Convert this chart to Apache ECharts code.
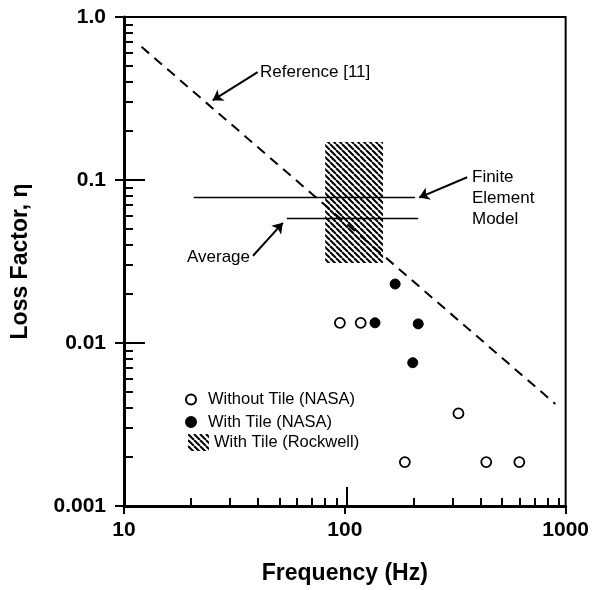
<!DOCTYPE html>
<html>
<head>
<meta charset="utf-8">
<script src="https://cdn.jsdelivr.net/npm/echarts@6/dist/echarts.min.js"></script>
<style>html,body{margin:0;padding:0;background:#fff}#main{width:592px;height:590px}</style>
</head>
<body>
<div id="main"></div>
<script>
// measured points
var withoutTile = [[95, 0.0133], [118, 0.0133], [327, 0.0037], [187, 0.00186], [437, 0.00186], [617, 0.00186]];
var withTile = [[137, 0.0133], [169, 0.023], [215, 0.0131], [203, 0.00757]];
// Rockwell band: [f low, f high, eta high, eta low]
var rockwell = [[81.5, 149, 0.171, 0.031]];
// lines
var reference11 = [[12, 0.656], [898, 0.00423]];
var femLine = [[20.7, 0.078], [208, 0.078]];
var avgLine = [[54.6, 0.058], [215, 0.058]];
// annotation arrows (tail -> head)
var arrowRef = [[40.3, 0.459], [25.2, 0.308]];
var arrowFem = [[358, 0.104], [217, 0.078]];
var arrowAvg = [[38.4, 0.0343], [52.4, 0.0546]];
// ticks
var xMinor = [20, 30, 40, 50, 60, 70, 80, 90, 200, 300, 400, 500, 600, 700, 800, 900];
var yMinor = [0.002, 0.003, 0.004, 0.005, 0.006, 0.007, 0.008, 0.009,
  0.02, 0.03, 0.04, 0.05, 0.06, 0.07, 0.08, 0.09,
  0.2, 0.3, 0.4, 0.5, 0.6, 0.7, 0.8, 0.9];
var xMajorInner = [100];
var yMajorInner = [0.01, 0.1];

var FONT = '"Liberation Sans", Arial, Helvetica, sans-serif';

// hatch pattern  \\\\
var hatch = document.createElement('canvas');
hatch.width = 6; hatch.height = 6;
(function () {
  var c = hatch.getContext('2d');
  c.strokeStyle = '#000';
  c.lineWidth = 2;
  c.beginPath();
  for (var k = -6; k <= 6; k += 6) {
    c.moveTo(k, 0);
    c.lineTo(k + 6, 6);
  }
  c.stroke();
})();
var hatchFill = { image: hatch, repeat: 'repeat' };

var gridBox = { left: 124, right: 23, top: 17, bottom: 84 };
function grid(extra) { return Object.assign({}, gridBox, extra || {}); }

function xAx(i, extra) {
  return Object.assign({
    type: 'log', logBase: 10, min: 10, max: 1000, gridIndex: i,
    axisLine: { show: false }, axisLabel: { show: false },
    splitLine: { show: false }, minorTick: { show: false }
  }, extra);
}
function yAx(i, extra) {
  return Object.assign({
    type: 'log', logBase: 10, min: 0.001, max: 1, gridIndex: i,
    axisLine: { show: false }, axisLabel: { show: false },
    splitLine: { show: false }, minorTick: { show: false }
  }, extra);
}

var option = {
  backgroundColor: '#fff',
  animation: false,
  grid: [
    grid({ show: true, borderColor: '#000', borderWidth: 2, backgroundColor: 'transparent' }),
    grid(),
    grid()
  ],
  xAxis: [
    xAx(0, {
      name: 'Frequency (Hz)', nameLocation: 'middle', nameGap: 56,
      nameTextStyle: { fontFamily: FONT, fontSize: 23, fontWeight: 'bold', color: '#000' },
      axisLine: { show: true, lineStyle: { color: '#000', width: 3 } },
      axisTick: { show: true, inside: false, length: 8, lineStyle: { color: '#000', width: 2 } },
      axisLabel: {
        show: true, margin: 14, fontFamily: FONT, fontSize: 21, fontWeight: 'bold', color: '#000',
        formatter: function (v) { return String(v); }
      }
    }),
    xAx(1, { axisTick: { show: true, inside: true, length: 8, customValues: xMinor, lineStyle: { color: '#000', width: 2 } } }),
    xAx(2, { axisTick: { show: true, inside: true, length: 19, customValues: xMajorInner, lineStyle: { color: '#000', width: 2 } } })
  ],
  yAxis: [
    yAx(0, {
      name: 'Loss Factor, η', nameLocation: 'middle', nameGap: 92,
      nameTextStyle: { fontFamily: FONT, fontSize: 23, fontWeight: 'bold', color: '#000' },
      axisLine: { show: true, lineStyle: { color: '#000', width: 3 } },
      axisTick: { show: true, inside: false, length: 9, lineStyle: { color: '#000', width: 2 } },
      axisLabel: {
        show: true, margin: 18, fontFamily: FONT, fontSize: 21, fontWeight: 'bold', color: '#000',
        formatter: function (v) { return v >= 1 ? '1.0' : String(v); }
      }
    }),
    yAx(1, { axisTick: { show: true, inside: true, length: 9, customValues: yMinor, lineStyle: { color: '#000', width: 2 } } }),
    yAx(2, { axisTick: { show: true, inside: true, length: 21, customValues: yMajorInner, lineStyle: { color: '#000', width: 2 } } })
  ],
  legend: [
    {
      data: ['Without Tile (NASA)', 'With Tile (NASA)'],
      orient: 'vertical', left: 180, top: 386,
      itemWidth: 24, itemHeight: 10, itemGap: 5.5,
      textStyle: { fontFamily: FONT, fontSize: 16.5, color: '#000', lineHeight: 16 },
      selectedMode: false
    },
    {
      data: ['With Tile (Rockwell)'],
      orient: 'vertical', left: 183, top: 429,
      itemWidth: 21, itemHeight: 17, icon: 'rect',
      textStyle: { fontFamily: FONT, fontSize: 16.5, color: '#000', lineHeight: 16 },
      selectedMode: false
    }
  ],
  graphic: [
    { type: 'text', left: 260, top: 64, style: { text: 'Reference [11]', font: '17px ' + FONT, fill: '#000' } },
    { type: 'text', left: 472, top: 167, style: { text: 'Finite\nElement\nModel', font: '17px ' + FONT, lineHeight: 21, fill: '#000' } },
    { type: 'text', left: 187, top: 249, style: { text: 'Average', font: '17px ' + FONT, fill: '#000' } }
  ],
  series: [
    {
      name: 'With Tile (Rockwell)', type: 'custom',
      xAxisIndex: 0, yAxisIndex: 0,
      encode: { x: [0, 1], y: [2, 3] },
      itemStyle: { color: hatchFill },
      renderItem: function (params, api) {
        var p1 = api.coord([api.value(0), api.value(2)]);
        var p2 = api.coord([api.value(1), api.value(3)]);
        return {
          type: 'rect',
          shape: { x: p1[0], y: p1[1], width: p2[0] - p1[0], height: p2[1] - p1[1] },
          style: { fill: hatchFill }
        };
      },
      data: rockwell, z: 1
    },
    {
      name: 'Reference [11]', type: 'line', data: reference11,
      symbol: 'none', lineStyle: { color: '#000', width: 2, type: [10, 7] }, z: 2
    },
    {
      name: 'FEM', type: 'line', data: femLine,
      symbol: 'none', lineStyle: { color: '#000', width: 1.5 }, z: 2
    },
    {
      name: 'Average', type: 'line', data: avgLine,
      symbol: 'none', lineStyle: { color: '#000', width: 1.5 }, z: 2
    },
    {
      name: 'arrows', type: 'lines', coordinateSystem: 'cartesian2d',
      symbol: ['none', 'arrow'], symbolSize: 10,
      lineStyle: { color: '#000', width: 2, opacity: 1 },
      data: [{ coords: arrowRef }, { coords: arrowFem }, { coords: arrowAvg }], z: 3
    },
    {
      name: 'Without Tile (NASA)', type: 'scatter', data: withoutTile,
      symbol: 'circle', symbolSize: 10,
      itemStyle: { color: '#fff', borderColor: '#000', borderWidth: 1.8, opacity: 1 }, z: 4
    },
    {
      name: 'With Tile (NASA)', type: 'scatter', data: withTile,
      symbol: 'circle', symbolSize: 10,
      itemStyle: { color: '#000', borderColor: '#000', borderWidth: 1, opacity: 1 }, z: 4
    }
  ]
};

echarts.init(document.getElementById('main')).setOption(option);
</script>
</body>
</html>
